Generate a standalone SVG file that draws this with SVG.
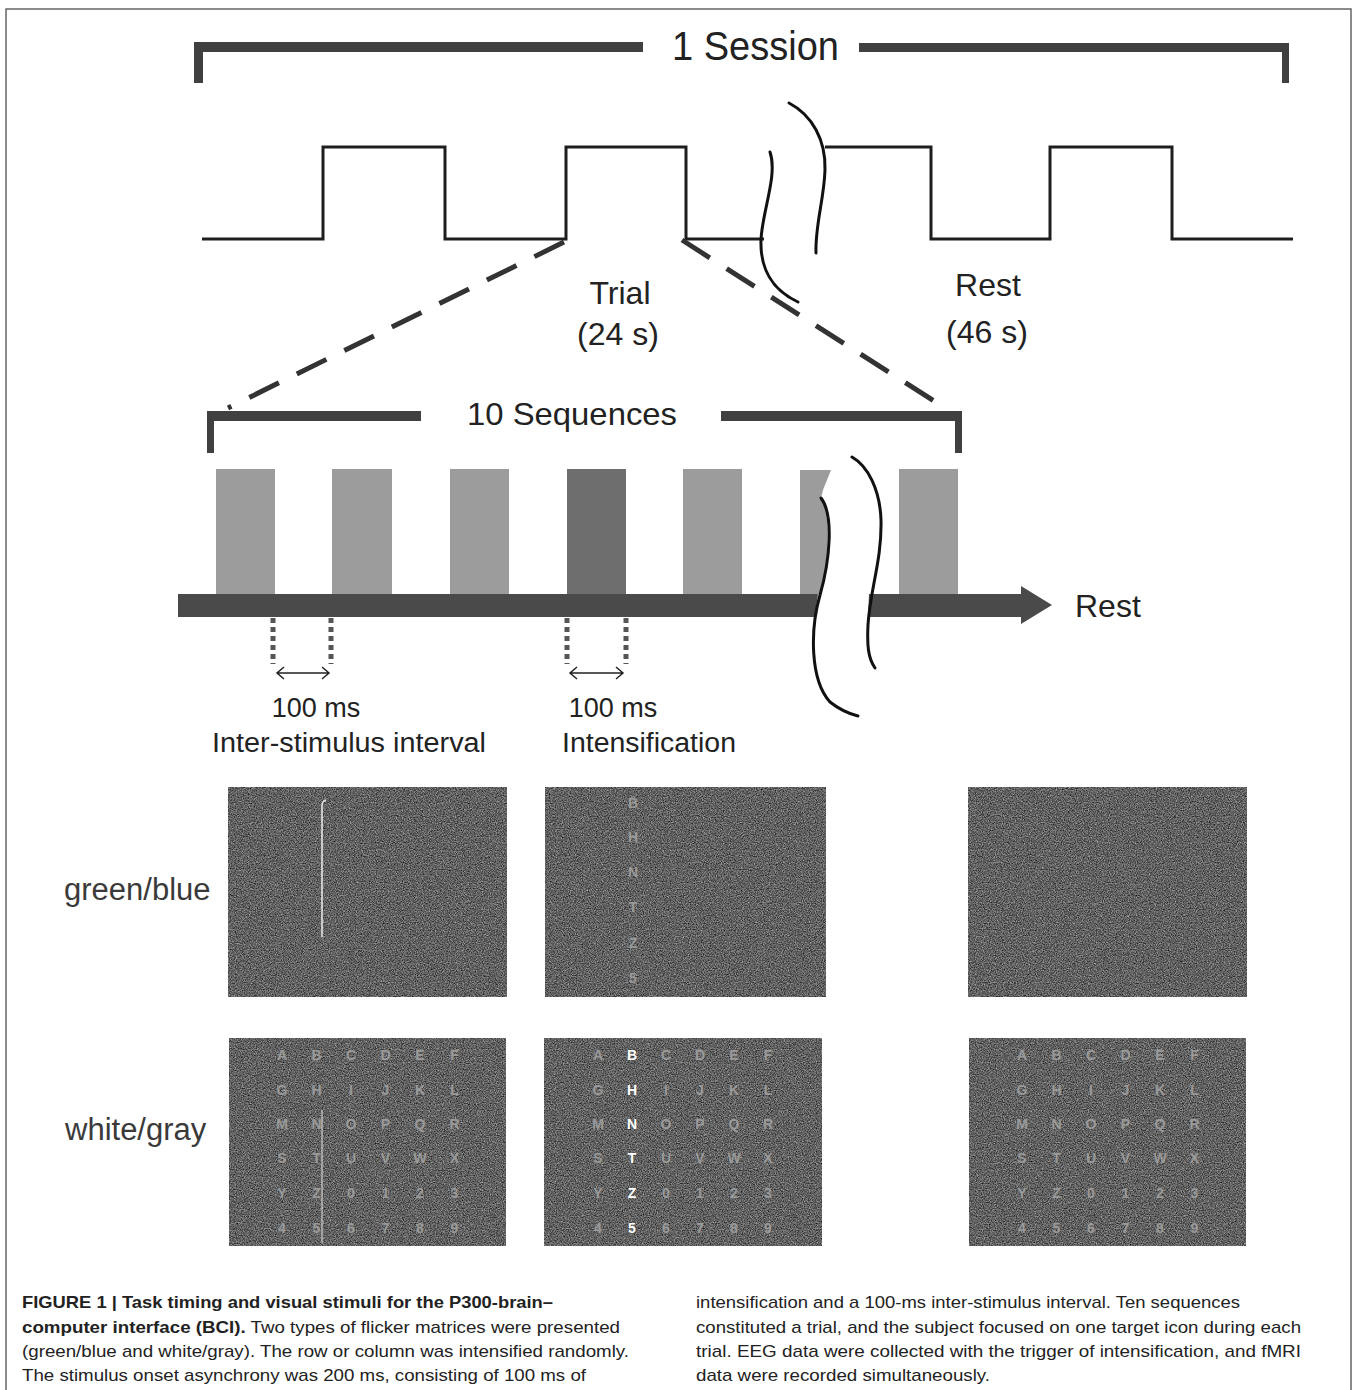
<svg xmlns="http://www.w3.org/2000/svg" width="1355" height="1390" viewBox="0 0 1355 1390">
<style>
.lbl{font-family:"Liberation Sans",Arial,sans-serif;fill:#222}
.big{font-size:32px}
.mid{font-size:27px}
.side{font-size:31px;fill:#3a3a3a}
.cap{font-family:"Liberation Sans",Arial,sans-serif;font-size:17px;fill:#222}
.capb{font-weight:bold}
.wave{fill:none;stroke:#1e1e1e;stroke-width:3}
.brk{fill:none;stroke:#111;stroke-width:3;stroke-linecap:round}
.brace{fill:#404040}
.dash{fill:none;stroke:#333;stroke-width:5;stroke-dasharray:33 20}
.dot{fill:none;stroke:#555;stroke-width:5;stroke-dasharray:5 4}
.dbl{fill:none;stroke:#222;stroke-width:1.5}
.bar{fill:#9c9c9c}
.bard{fill:#6e6e6e}
.arr{fill:#4a4a4a}
.panel{fill:#616161}
.g{font-family:"Liberation Sans",Arial,sans-serif;font-size:14px;font-weight:bold;fill:#9a9a9a;text-anchor:middle}
.hi{fill:#ffffff}
</style>
<defs>
<filter id="grain" x="0" y="0" width="1" height="1" color-interpolation-filters="sRGB">
<feTurbulence type="fractalNoise" baseFrequency="0.85" numOctaves="2" seed="7" result="n"/>
<feColorMatrix in="n" type="matrix" values="0.8 0 0 0 -0.02  0.8 0 0 0 -0.02  0.8 0 0 0 -0.02  0 0 0 0 1" result="gn"/>
<feComposite in="gn" in2="SourceGraphic" operator="in"/>
</filter>
</defs>

<g id="frame"><path d="M6,1390 V9 H1351 V1390" fill="none" stroke="#666" stroke-width="1.5"/></g>

<g id="session-bracket">
<rect class="brace" x="194" y="42" width="449" height="10"/>
<rect class="brace" x="194" y="42" width="9" height="41"/>
<rect class="brace" x="859" y="43" width="430" height="9"/>
<rect class="brace" x="1282" y="43" width="7" height="40"/>
<text class="lbl" x="672" y="60" font-size="40" textLength="167" lengthAdjust="spacingAndGlyphs">1 Session</text>
</g>

<g id="session-wave">
<path class="wave" d="M202,239 H323 V147 H445 V239 H566 V147 H686 V239 H764"/>
<path class="wave" d="M825,147 H931 V239 H1050 V147 H1172 V239 H1293"/>
<path class="brk" d="M770,152 C778,175 762,212 761,240 C760,268 772,290 798,302"/>
<path class="brk" d="M789,103 C812,115 826,140 825,170 C824,200 815,225 816,253"/>
</g>

<g id="trial-label">
<text class="lbl big" x="620" y="304" text-anchor="middle">Trial</text>
<text class="lbl big" x="618" y="345" text-anchor="middle">(24 s)</text>
</g>
<g id="rest-label">
<text class="lbl big" x="988" y="296" text-anchor="middle">Rest</text>
<text class="lbl big" x="987" y="343" text-anchor="middle">(46 s)</text>
</g>

<g id="connectors">
<path class="dash" d="M564,242 L228,408"/>
<path class="dash" d="M682,240 L948,410"/>
</g>

<g id="sequence-bracket">
<rect class="brace" x="207" y="411" width="214" height="10"/>
<rect class="brace" x="207" y="411" width="7" height="42"/>
<rect class="brace" x="721" y="411" width="241" height="10"/>
<rect class="brace" x="955" y="411" width="7" height="42"/>
<text class="lbl big" x="467" y="425" textLength="210" lengthAdjust="spacingAndGlyphs">10 Sequences</text>
</g>

<g id="stimulus-bars">
<rect class="bar" x="216" y="469" width="59" height="125"/>
<rect class="bar" x="332" y="469" width="60" height="125"/>
<rect class="bar" x="450" y="469" width="59" height="125"/>
<rect class="bard" x="567" y="469" width="59" height="125"/>
<rect class="bar" x="683" y="469" width="59" height="125"/>
<path class="bar" d="M800,470 H831 L823,490 L821,498 C829,510 830,545 824,575 L819,594 H800 Z"/>
<rect class="bar" x="899" y="469" width="59" height="125"/>
</g>

<g id="time-arrow">
<path class="arr" d="M178,594 H818 L815,617 H178 Z"/>
<path class="arr" d="M869,594 H1021 V586 L1052,605 L1021,624 V617 H868 Z"/>
<path class="brk" d="M821,498 C834,515 830,560 820,595 C810,630 810,680 830,702 C840,710 850,714 858,716"/>
<path class="brk" d="M852,457 C868,466 880,490 881,520 C882,560 870,590 868,625 C867,645 868,658 875,668"/>
<text class="lbl big" x="1075" y="617">Rest</text>
</g>

<g id="isi">
<path class="dot" d="M273,618 V664"/>
<path class="dot" d="M331,618 V664"/>
<path class="dbl" d="M277,673 H329 M284,667 L277,673 L284,679 M322,667 L329,673 L322,679"/>
<text class="lbl mid" x="316" y="717" text-anchor="middle">100 ms</text>
<text class="lbl mid" x="212" y="752" textLength="274" lengthAdjust="spacingAndGlyphs">Inter-stimulus interval</text>
</g>
<g id="intensification">
<path class="dot" d="M567,618 V664"/>
<path class="dot" d="M626,618 V664"/>
<path class="dbl" d="M570,673 H623 M577,667 L570,673 L577,679 M616,667 L623,673 L616,679"/>
<text class="lbl mid" x="613" y="717" text-anchor="middle">100 ms</text>
<text class="lbl mid" x="562" y="752" textLength="174" lengthAdjust="spacingAndGlyphs">Intensification</text>
</g>

<g id="row-labels">
<text class="lbl side" x="64" y="900">green/blue</text>
<text class="lbl side" x="65" y="1140">white/gray</text>
</g>

<g id="panels-bg" filter="url(#grain)">
<rect class="panel" x="228" y="787" width="279" height="210"/>
<rect class="panel" x="545" y="787" width="281" height="210"/>
<rect class="panel" x="968" y="787" width="279" height="210"/>
<rect class="panel" x="229" y="1038" width="277" height="208"/>
<rect class="panel" x="544" y="1038" width="278" height="208"/>
<rect class="panel" x="969" y="1038" width="277" height="208"/>
</g>

<g id="panel-gb-1"><path d="M322,937 V806 Q322,801 326,800" fill="none" stroke="#e4e4e4" stroke-width="1.6"/></g>
<g id="panel-gb-2" class="g">
<text x="633" y="808">B</text><text x="633" y="842">H</text><text x="633" y="877">N</text>
<text x="633" y="912">T</text><text x="633" y="948">Z</text><text x="633" y="983">5</text>
</g>
<g id="panel-gb-3"/>

<g id="panel-wg-1" class="g">
<text x="282" y="1060">A</text><text x="316.5" y="1060">B</text><text x="351" y="1060">C</text><text x="385.5" y="1060">D</text><text x="420" y="1060">E</text><text x="454.5" y="1060">F</text>
<text x="282" y="1095">G</text><text x="316.5" y="1095">H</text><text x="351" y="1095">I</text><text x="385.5" y="1095">J</text><text x="420" y="1095">K</text><text x="454.5" y="1095">L</text>
<text x="282" y="1129">M</text><text x="316.5" y="1129">N</text><text x="351" y="1129">O</text><text x="385.5" y="1129">P</text><text x="420" y="1129">Q</text><text x="454.5" y="1129">R</text>
<text x="282" y="1163">S</text><text x="316.5" y="1163">T</text><text x="351" y="1163">U</text><text x="385.5" y="1163">V</text><text x="420" y="1163">W</text><text x="454.5" y="1163">X</text>
<text x="282" y="1198">Y</text><text x="316.5" y="1198">Z</text><text x="351" y="1198">0</text><text x="385.5" y="1198">1</text><text x="420" y="1198">2</text><text x="454.5" y="1198">3</text>
<text x="282" y="1233">4</text><text x="316.5" y="1233">5</text><text x="351" y="1233">6</text><text x="385.5" y="1233">7</text><text x="420" y="1233">8</text><text x="454.5" y="1233">9</text>
<path d="M322,1110 V1243" stroke="#cfcfcf" stroke-width="1.2"/>
</g>

<g id="panel-wg-2" class="g">
<text x="598" y="1060">A</text><text class="hi" x="632" y="1060">B</text><text x="666" y="1060">C</text><text x="700" y="1060">D</text><text x="734" y="1060">E</text><text x="768" y="1060">F</text>
<text x="598" y="1095">G</text><text class="hi" x="632" y="1095">H</text><text x="666" y="1095">I</text><text x="700" y="1095">J</text><text x="734" y="1095">K</text><text x="768" y="1095">L</text>
<text x="598" y="1129">M</text><text class="hi" x="632" y="1129">N</text><text x="666" y="1129">O</text><text x="700" y="1129">P</text><text x="734" y="1129">Q</text><text x="768" y="1129">R</text>
<text x="598" y="1163">S</text><text class="hi" x="632" y="1163">T</text><text x="666" y="1163">U</text><text x="700" y="1163">V</text><text x="734" y="1163">W</text><text x="768" y="1163">X</text>
<text x="598" y="1198">Y</text><text class="hi" x="632" y="1198">Z</text><text x="666" y="1198">0</text><text x="700" y="1198">1</text><text x="734" y="1198">2</text><text x="768" y="1198">3</text>
<text x="598" y="1233">4</text><text class="hi" x="632" y="1233">5</text><text x="666" y="1233">6</text><text x="700" y="1233">7</text><text x="734" y="1233">8</text><text x="768" y="1233">9</text>
</g>

<g id="panel-wg-3" class="g">
<text x="1022" y="1060">A</text><text x="1056.5" y="1060">B</text><text x="1091" y="1060">C</text><text x="1125.5" y="1060">D</text><text x="1160" y="1060">E</text><text x="1194.5" y="1060">F</text>
<text x="1022" y="1095">G</text><text x="1056.5" y="1095">H</text><text x="1091" y="1095">I</text><text x="1125.5" y="1095">J</text><text x="1160" y="1095">K</text><text x="1194.5" y="1095">L</text>
<text x="1022" y="1129">M</text><text x="1056.5" y="1129">N</text><text x="1091" y="1129">O</text><text x="1125.5" y="1129">P</text><text x="1160" y="1129">Q</text><text x="1194.5" y="1129">R</text>
<text x="1022" y="1163">S</text><text x="1056.5" y="1163">T</text><text x="1091" y="1163">U</text><text x="1125.5" y="1163">V</text><text x="1160" y="1163">W</text><text x="1194.5" y="1163">X</text>
<text x="1022" y="1198">Y</text><text x="1056.5" y="1198">Z</text><text x="1091" y="1198">0</text><text x="1125.5" y="1198">1</text><text x="1160" y="1198">2</text><text x="1194.5" y="1198">3</text>
<text x="1022" y="1233">4</text><text x="1056.5" y="1233">5</text><text x="1091" y="1233">6</text><text x="1125.5" y="1233">7</text><text x="1160" y="1233">8</text><text x="1194.5" y="1233">9</text>
</g>

<g id="caption">
<text class="cap capb" x="22" y="1308" textLength="531" lengthAdjust="spacingAndGlyphs">FIGURE 1 | Task timing and visual stimuli for the P300-brain–</text>
<text class="cap" x="22" y="1333" textLength="598" lengthAdjust="spacingAndGlyphs"><tspan class="capb">computer interface (BCI).</tspan> Two types of flicker matrices were presented</text>
<text class="cap" x="22" y="1357" textLength="607" lengthAdjust="spacingAndGlyphs">(green/blue and white/gray). The row or column was intensified randomly.</text>
<text class="cap" x="22" y="1381" textLength="564" lengthAdjust="spacingAndGlyphs">The stimulus onset asynchrony was 200 ms, consisting of 100 ms of</text>
<text class="cap" x="696" y="1308" textLength="544" lengthAdjust="spacingAndGlyphs">intensification and a 100-ms inter-stimulus interval. Ten sequences</text>
<text class="cap" x="696" y="1333" textLength="605" lengthAdjust="spacingAndGlyphs">constituted a trial, and the subject focused on one target icon during each</text>
<text class="cap" x="696" y="1357" textLength="605" lengthAdjust="spacingAndGlyphs">trial. EEG data were collected with the trigger of intensification, and fMRI</text>
<text class="cap" x="696" y="1381" textLength="294" lengthAdjust="spacingAndGlyphs">data were recorded simultaneously.</text>
</g>
</svg>
